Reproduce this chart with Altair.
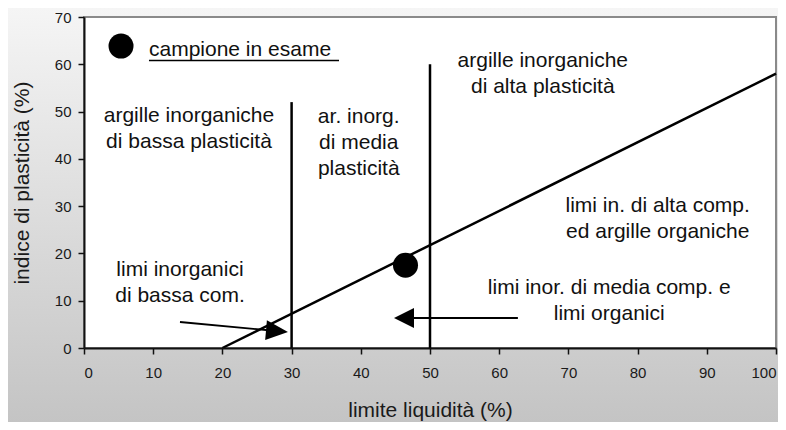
import altair as alt
import pandas as pd

FONT = "Liberation Sans"

# axes
x_ticks = [0, 10, 20, 30, 40, 50, 60, 70, 80, 90, 100]
y_ticks = [0, 10, 20, 30, 40, 50, 60, 70]

# line segments (A-line, limits, underline, arrow shafts)
seg_x = [20, 30, 50, 9.39, 13.87, 62.7]
seg_y = [0, 0, 0, 60.8, 5.5, 6.34]
seg_x2 = [100, 30, 50, 36.85, 27.0, 47.0]
seg_y2 = [58, 52, 60, 60.8, 3.7, 6.34]
seg_w = [2.5, 2.5, 2.5, 1.5, 1.8, 1.8]

# arrow heads
head_x = [27.89, 46.24]
head_y = [3.59, 6.34]
head_shape = ["M-1,-0.9L1,0L-1,0.9Z", "M1,-1L-1,0L1,1Z"]
head_size = [484, 400]
head_angle = [5, 0]

# points: sample and legend marker
pt_x = [46.46, 5.35]
pt_y = [17.5, 63.85]

# zone labels
lab_text = [
    "argille inorganiche\ndi bassa plasticità",
    "ar. inorg.\ndi media\nplasticità",
    "argille inorganiche\ndi alta plasticità",
    "limi in. di alta comp.\ned argille organiche",
    "limi inor. di media comp. e\nlimi organici",
    "limi inorganici\ndi bassa com.",
]
lab_x = [15.17, 39.7, 66.3, 82.9, 75.9, 13.87]
lab_y = [51.4, 51.2, 63.0, 32.35, 15.0, 18.8]

legend_text = ["campione in esame"]
legend_x = [9.39]
legend_y = [65.3]

xs = alt.Scale(domain=[0, 100], nice=False, zero=False)
ys = alt.Scale(domain=[0, 70], nice=False, zero=False)

xaxis = alt.Axis(values=x_ticks, title="limite liquidità (%)", grid=False,
                 tickSize=6, tickWidth=1.5, tickColor="#111", domainColor="#111",
                 domainWidth=2, labelFontSize=15, labelPadding=11, labelColor="#1a1a1a",
                 labelFont=FONT, titleFont=FONT, titleFontSize=21, titleFontWeight="normal",
                 titleColor="#1a1a1a", titleY=68, titleBaseline="alphabetic", zindex=1)
yaxis = alt.Axis(values=y_ticks, title="indice di plasticità (%)", grid=False,
                 tickSize=6, tickWidth=1.5, tickColor="#111", domainColor="#111",
                 domainWidth=2, labelFontSize=15, labelPadding=7, labelColor="#1a1a1a",
                 labelFont=FONT, titleFont=FONT, titleFontSize=21, titleFontWeight="normal",
                 titleColor="#1a1a1a", titleX=-56, titleBaseline="alphabetic", zindex=1)

bg = alt.Chart(pd.DataFrame({"a": [0]})).mark_rect(
    color=alt.LinearGradient(gradient="linear",
                             stops=[alt.GradientStop(color="#f5f5f5", offset=0),
                                    alt.GradientStop(color="#c4c4c4", offset=1)],
                             x1=0, x2=0, y1=0, y2=1)
).encode(x=alt.value(-76), x2=alt.value(694), y=alt.value(-9), y2=alt.value(405))

plot_bg = alt.Chart(pd.DataFrame({"x": [x_ticks[0]], "x2": [x_ticks[-1]],
                                  "y": [y_ticks[0]], "y2": [y_ticks[-1]]})).mark_rect(
    fill="white", stroke="#8a8a8a", strokeWidth=2
).encode(
    x=alt.X("x:Q", scale=xs, axis=xaxis),
    x2="x2:Q",
    y=alt.Y("y:Q", scale=ys, axis=yaxis),
    y2="y2:Q",
)

segs = alt.Chart(pd.DataFrame({"x": seg_x, "y": seg_y, "x2": seg_x2, "y2": seg_y2,
                               "w": seg_w})).mark_rule(color="black").encode(
    x=alt.X("x:Q", scale=xs), y=alt.Y("y:Q", scale=ys),
    x2="x2:Q", y2="y2:Q",
    strokeWidth=alt.StrokeWidth("w:Q", scale=None, legend=None),
)

heads = alt.Chart(pd.DataFrame({"x": head_x, "y": head_y, "shape": head_shape,
                                "size": head_size, "angle": head_angle})).mark_point(
    filled=True, color="black", opacity=1, strokeWidth=0
).encode(
    x=alt.X("x:Q", scale=xs), y=alt.Y("y:Q", scale=ys),
    shape=alt.Shape("shape:N", scale=None, legend=None),
    size=alt.Size("size:Q", scale=None, legend=None),
    angle=alt.Angle("angle:Q", scale=None, legend=None),
)

pts = alt.Chart(pd.DataFrame({"x": pt_x, "y": pt_y})).mark_circle(
    color="black", opacity=1, size=625
).encode(x=alt.X("x:Q", scale=xs), y=alt.Y("y:Q", scale=ys))

labels = alt.Chart(pd.DataFrame({"x": lab_x, "y": lab_y, "t": lab_text})).mark_text(
    font=FONT, fontSize=21, lineBreak="\n", lineHeight=26, baseline="top",
    align="center", color="#111"
).encode(x=alt.X("x:Q", scale=xs), y=alt.Y("y:Q", scale=ys), text="t:N")

legend = alt.Chart(pd.DataFrame({"x": legend_x, "y": legend_y, "t": legend_text})).mark_text(
    font=FONT, fontSize=21, baseline="top", align="left", color="#111"
).encode(x=alt.X("x:Q", scale=xs), y=alt.Y("y:Q", scale=ys), text="t:N")

chart = alt.layer(bg, plot_bg, segs, heads, pts, labels, legend).properties(
    width=692, height=331,
    autosize=alt.AutoSizeParams(type="none"),
    padding={"left": 76, "top": 9, "right": 2, "bottom": 74},
).configure_view(stroke=None)

chart.save("out.html", embed_options={"renderer": "svg", "actions": False})
